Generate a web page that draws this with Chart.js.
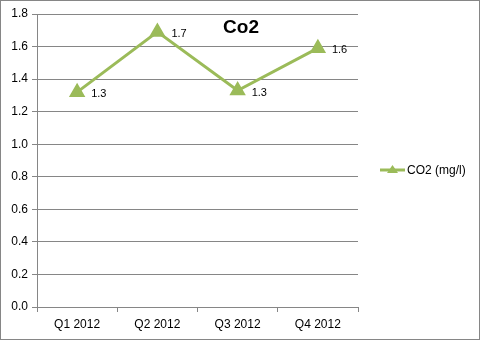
<!DOCTYPE html>
<html>
<head>
<meta charset="utf-8">
<script src="https://cdn.jsdelivr.net/npm/chart.js@4"></script>
<style>
  html, body { margin: 0; padding: 0; background: #ffffff; }
  #wrap { width: 481px; height: 341px; position: relative; }
</style>
</head>
<body>
<div id="wrap"><canvas id="c" width="481" height="341"></canvas></div>
<script>
const categories = ["Q1 2012", "Q2 2012", "Q3 2012", "Q4 2012"];
const co2Values = [1.32, 1.69, 1.33, 1.59];
const seriesName = "CO2 (mg/l)";
const chartTitle = "Co2";
const yMin = 0, yMax = 1.8, yStep = 0.2;

const GREEN = "#9BBB59";
const GRID = "#868686";
const TEXT = "#000000";
const FONT = "'Liberation Sans', 'DejaVu Sans', sans-serif";

const decorPlugin = {
  id: "decor",
  afterDatasetsDraw(chart) {
    const ctx = chart.ctx;
    const meta = chart.getDatasetMeta(0);
    ctx.save();
    // data labels
    ctx.font = "11px " + FONT;
    ctx.fillStyle = TEXT;
    ctx.textAlign = "left";
    ctx.textBaseline = "middle";
    meta.data.forEach((pt, i) => {
      ctx.fillText(co2Values[i].toFixed(1), pt.x + 14, pt.y + 2);
    });
    // title (overlay)
    ctx.font = "bold 19px " + FONT;
    ctx.textAlign = "center";
    ctx.fillText(chartTitle, 241, 28);
    // legend
    const lx = 380, ly = 170;
    ctx.strokeStyle = GREEN;
    ctx.lineWidth = 3;
    ctx.beginPath();
    ctx.moveTo(lx, ly);
    ctx.lineTo(lx + 25, ly);
    ctx.stroke();
    ctx.fillStyle = GREEN;
    ctx.beginPath();
    ctx.moveTo(lx + 12.5, ly - 5);
    ctx.lineTo(lx + 18, ly + 3);
    ctx.lineTo(lx + 7, ly + 3);
    ctx.closePath();
    ctx.fill();
    ctx.fillStyle = TEXT;
    ctx.font = "12px " + FONT;
    ctx.textAlign = "left";
    ctx.fillText(seriesName, lx + 27, ly + 1);
    // outer border
    ctx.strokeStyle = GRID;
    ctx.lineWidth = 1;
    ctx.strokeRect(0.5, 0.5, chart.width - 2, chart.height - 2);
    ctx.restore();
  }
};

new Chart(document.getElementById("c"), {
  type: "line",
  data: {
    labels: categories,
    datasets: [{
      label: seriesName,
      data: co2Values,
      borderColor: GREEN,
      backgroundColor: GREEN,
      borderWidth: 3,
      pointStyle: "triangle",
      pointRadius: 6.5,
      pointHoverRadius: 6.5,
      pointBackgroundColor: GREEN,
      pointBorderColor: GREEN,
      tension: 0,
      fill: false
    }]
  },
  options: {
    responsive: false,
    animation: false,
    events: [],
    layout: { padding: { left: 0, top: 14, right: 123, bottom: 0 } },
    plugins: {
      legend: { display: false },
      title: { display: false },
      tooltip: { enabled: false }
    },
    scales: {
      x: {
        offset: true,
        grid: {
          offset: true,
          drawOnChartArea: false,
          drawTicks: true,
          tickLength: 5,
          color: GRID
        },
        border: { display: true, color: GRID, width: 1 },
        ticks: {
          color: TEXT,
          font: { family: FONT, size: 12 },
          padding: 5,
          maxRotation: 0
        },
        afterFit(scale) { scale.height = 34; }
      },
      y: {
        min: yMin,
        max: yMax,
        grid: {
          color: GRID,
          drawTicks: true,
          tickLength: 5
        },
        border: { display: true, color: GRID, width: 1 },
        ticks: {
          stepSize: yStep,
          color: TEXT,
          font: { family: FONT, size: 12 },
          padding: 4,
          callback: (v) => Number(v).toFixed(1)
        },
        afterFit(scale) { scale.width = 37; }
      }
    }
  },
  plugins: [decorPlugin]
});
</script>
</body>
</html>
